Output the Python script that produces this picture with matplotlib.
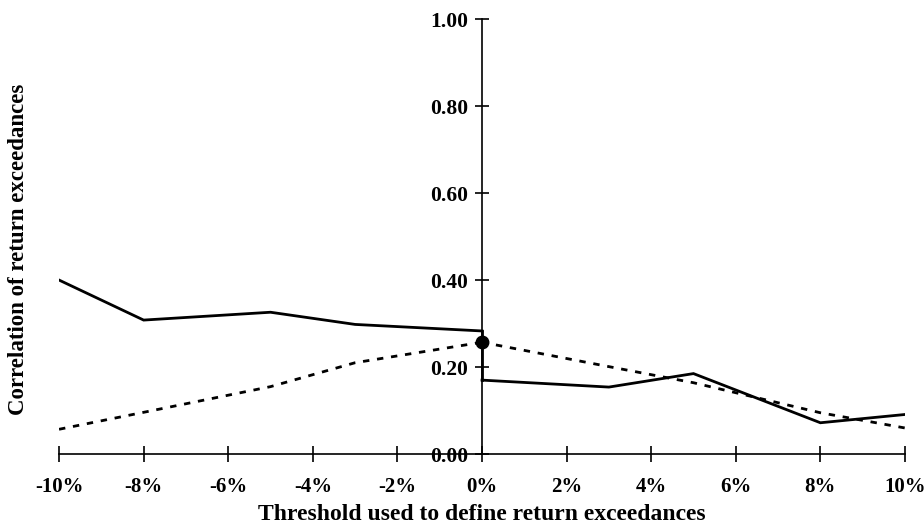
import matplotlib.pyplot as plt

# --- dane ---
thresholds_left = [-10, -8, -5, -3, 0]
thresholds_right = [0, 3, 5, 8, 10]

solid_left = [0.40, 0.308, 0.326, 0.298, 0.283]
solid_right = [0.170, 0.154, 0.185, 0.072, 0.091]

dashed_left = [0.057, 0.096, 0.155, 0.210, 0.257]
dashed_right = [0.257, 0.201, 0.164, 0.095, 0.060]

dot_x = [0]
dot_y = [0.257]

xticks = [-10, -8, -6, -4, -2, 0, 2, 4, 6, 8, 10]
xticklabels = ['-10%', '-8%', '-6%', '-4%', '-2%', '0%', '2%', '4%', '6%', '8%', '10%']
yticks = [0.0, 0.2, 0.4, 0.6, 0.8, 1.0]
yticklabels = ['0.00', '0.20', '0.40', '0.60', '0.80', '1.00']

plt.rcParams['font.family'] = ['Liberation Serif', 'DejaVu Serif']
plt.rcParams['font.weight'] = 'bold'

fig = plt.figure(figsize=(9.24, 5.28), dpi=100)
ax = fig.add_axes([0.0639, 0.140, 0.9155, 0.824])

ax.plot(thresholds_left, solid_left, color='black', lw=2.0, solid_joinstyle='miter')
ax.plot(thresholds_right, solid_right, color='black', lw=2.0, solid_joinstyle='miter')
ax.plot([0, 0], [solid_left[-1], solid_right[0]], color='black', lw=2.0)
ax.plot(thresholds_left, dashed_left, color='black', lw=2.0, dashes=(2.3, 2.8))
ax.plot(thresholds_right, dashed_right, color='black', lw=2.0, dashes=(2.3, 2.8))
ax.plot(dot_x, dot_y, 'o', color='black', markersize=9, zorder=5)

ax.set_xlim(-10, 10)
ax.set_ylim(0, 1)

ax.spines['top'].set_visible(False)
ax.spines['right'].set_visible(False)
ax.spines['left'].set_position(('data', 0))
ax.spines['left'].set_linewidth(1.2)
ax.spines['bottom'].set_linewidth(1.2)

ax.set_xticks(xticks)
ax.set_xticklabels(xticklabels, fontsize=15, fontweight='bold')
ax.set_yticks(yticks)
ax.set_yticklabels(yticklabels, fontsize=15.5, fontweight='bold')
ax.tick_params(axis='x', direction='inout', length=11, width=1.2, pad=11)
ax.tick_params(axis='y', direction='inout', length=10, width=1.2, pad=5)

ax.set_xlabel('Threshold used to define return exceedances', fontsize=17,
              fontweight='bold', labelpad=5)
fig.text(0.020, 0.528, 'Correlation of return exceedances', rotation=90,
         fontsize=16.5, fontweight='bold', ha='center', va='center')

fig.savefig('out.png', dpi=100)
